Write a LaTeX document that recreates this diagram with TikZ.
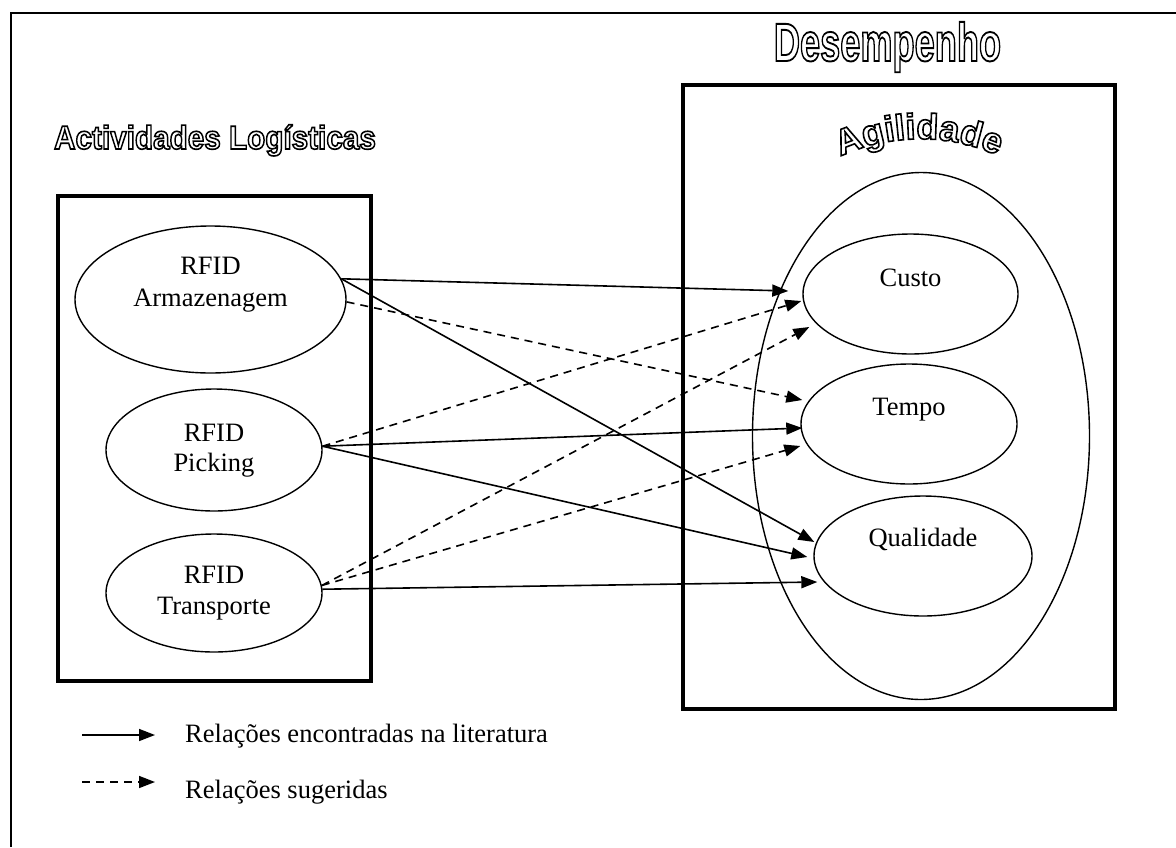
\documentclass[tikz,border=0pt]{standalone}
\usepackage{fontspec}
\usepackage{graphicx}
\setmainfont{Liberation Serif}
\newfontfamily\artfont{Liberation Sans}
\usetikzlibrary{arrows.meta,calc,shapes.geometric}
\newcommand\outl[2][2]{\special{pdf:literal direct 1 Tr #1 w}#2\special{pdf:literal direct 0 Tr}}
\begin{document}
\begin{tikzpicture}[x=1pt,y=-1pt,
  frame/.style={line width=2pt},
  box/.style={draw,line width=3.5pt},
  ell/.style={draw,ellipse,line width=1.4pt,inner sep=0pt},
  lbl/.style={font=\fontsize{26.5}{31}\selectfont,inner sep=0pt,anchor=base},
  art/.style={font=\artfont\bfseries\fontsize{#1}{#1}\selectfont,inner sep=0pt,anchor=base},
  rel/.style={line width=1.6pt,-{Triangle[length=16pt,width=12pt]}},
  sug/.style={rel,dash pattern=on 8pt off 6pt}]
\useasboundingbox (0,0) rectangle (1176,847);
% outer frame
\draw[frame] (11,847) -- (11,13) -- (1176,13);
% boxes
\draw[box] (58,196) rectangle (371,681);
\draw[box] (683,85) rectangle (1115,709);
% titles
\node[art=54] (desemp) at (887.5,61) {\scalebox{0.67}[1]{\outl[1.9]{Desempenho}}};
\node[art=33] (activ) at (215,149) {\scalebox{0.9}[1]{\outl[1.6]{Actividades Logísticas}}};
% Agilidade arched
\node[art=36,rotate=20.8] (ag1) at (852.5,151.4) {\outl[1.6]{A}};
\node[art=36,rotate=13.6] (ag2) at (875.3,144.3) {\outl[1.6]{g}};
\node[art=36,rotate=8.75] (ag3) at (891.1,141.2) {\outl[1.6]{i}};
\node[art=36,rotate=5.73] (ag4) at (901.0,140.0) {\outl[1.6]{l}};
\node[art=36,rotate=2.71] (ag5) at (911.0,139.2) {\outl[1.6]{i}};
\node[art=36,rotate=-2.11] (ag6) at (927.0,139.1) {\outl[1.6]{d}};
\node[art=36,rotate=-8.44] (ag7) at (947.9,141.0) {\outl[1.6]{a}};
\node[art=36,rotate=-14.78] (ag8) at (968.5,145.3) {\outl[1.6]{d}};
\node[art=36,rotate=-21.1] (ag9) at (988.4,151.7) {\outl[1.6]{e}};
% big ellipse
\node[ell,minimum width=337pt,minimum height=527pt] (agil) at (921,436) {};
% ellipses
\node[ell,minimum width=271pt,minimum height=147pt] (arm) at (210.5,299.5) {};
\node[ell,minimum width=216pt,minimum height=122pt] (pic) at (214,450) {};
\node[ell,minimum width=216pt,minimum height=118pt] (trn) at (214,593) {};
\node[ell,minimum width=215pt,minimum height=120pt] (cus) at (910.5,294) {};
\node[ell,minimum width=216pt,minimum height=120pt] (tem) at (909,424) {};
\node[ell,minimum width=218pt,minimum height=120pt] (qua) at (923,556) {};
% labels
\node[lbl] (armA) at (210.5,274) {RFID};
\node[lbl] (armB) at (210.5,306) {Armazenagem};
\node[lbl] (picA) at (214,441) {RFID};
\node[lbl] (picB) at (214,471.5) {Picking};
\node[lbl] (trnA) at (214,583) {RFID};
\node[lbl] (trnB) at (214,614) {Transporte};
\node[lbl] (cusT) at (910.5,286) {Custo};
\node[lbl] (temT) at (909,415) {Tempo};
\node[lbl] (quaT) at (923,546) {Qualidade};
% connectors
\draw[rel] (arm.9) -- ($(cus.west)+(-14,-3)$);
\draw[rel] (arm.9) -- ($(qua.west)+(1,-14)$);
\draw[sug] (arm.-1) -- ($(tem.west)+(2,-24)$);
\draw[sug] (pic.2) -- ($(cus.west)+(-1,7)$);
\draw[rel] (pic.2) -- ($(tem.west)+(2,4)$);
\draw[rel] (pic.2) -- ($(qua.west)+(-6,1)$);
\draw[sug] (trn.4) -- ($(cus.west)+(7,33)$);
\draw[sug] (trn.4) -- ($(tem.west)+(0,22)$);
\draw[rel] (trn.2) -- ($(qua.west)+(4,26)$);
% legend
\coordinate (l1a) at (82,735);
\coordinate (l1b) at (155,735);
\coordinate (l2a) at (82,782);
\coordinate (l2b) at (155,782);
\draw[rel] (l1a) -- (l1b);
\draw[sug] (l2a) -- (l2b);
\node[lbl,anchor=base west] (leg1) at (185,742) {Relações encontradas na literatura};
\node[lbl,anchor=base west] (leg2) at (185,798) {Relações sugeridas};
\end{tikzpicture}
\end{document}
